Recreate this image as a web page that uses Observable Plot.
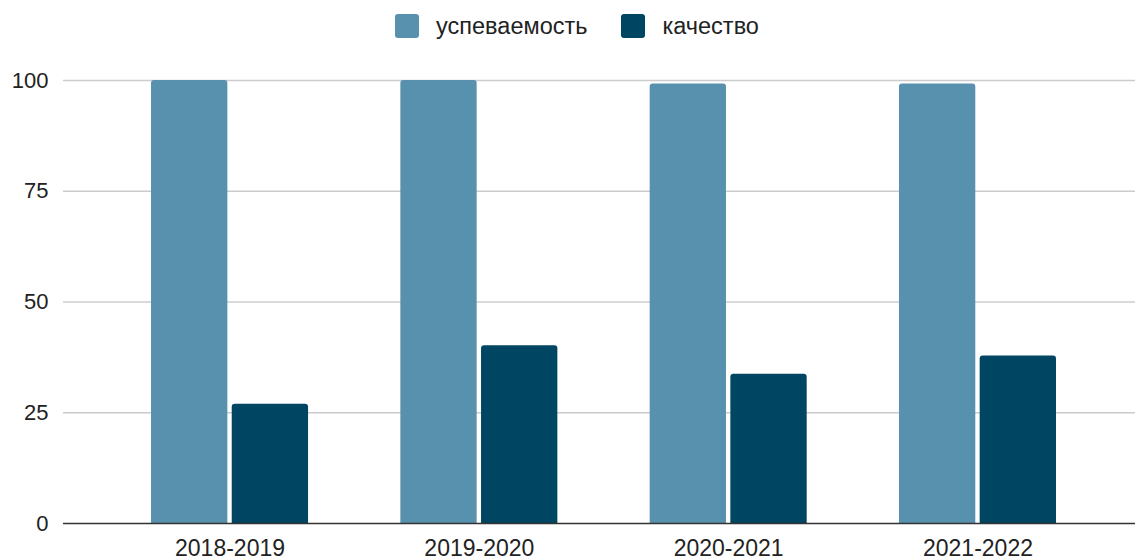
<!DOCTYPE html>
<html>
<head>
<meta charset="utf-8">
<script src="https://cdn.jsdelivr.net/npm/d3@7"></script>
<script src="https://cdn.jsdelivr.net/npm/@observablehq/plot@0.6"></script>
<style>
  html, body { margin: 0; padding: 0; background: #fff; }
  body { width: 1135px; height: 559px; overflow: hidden; font-family: "Liberation Sans", Arial, sans-serif; }
  #legend { height: 50px; display: flex; align-items: center; justify-content: center; padding-left: 19px; padding-top: 2px; box-sizing: border-box; font-size: 23.5px; color: #222; }
  .item { display: flex; align-items: center; margin: 0 17px; }
  .sw { width: 24px; height: 24px; border-radius: 3px; margin-right: 17px; }
</style>
</head>
<body>
<div id="legend"></div>
<div id="chart"></div>
<script>
const years = ["2018-2019", "2019-2020", "2020-2021", "2021-2022"];
const seriesNames = ["успеваемость", "качество"];
const uspevaemost = [100, 100, 99.2, 99.2];
const kachestvo = [26.9, 40.1, 33.7, 37.8];
const yTicks = [0, 25, 50, 75, 100];
const colors = ["#5891ad", "#004561"];

const rows1 = years.map((y, i) => ({year: y, value: uspevaemost[i]}));
const rows2 = years.map((y, i) => ({year: y, value: kachestvo[i]}));

const legend = document.getElementById("legend");
seriesNames.forEach((name, i) => {
  const it = document.createElement("div");
  it.className = "item";
  const sw = document.createElement("div");
  sw.className = "sw";
  sw.style.background = colors[i];
  const t = document.createElement("span");
  t.textContent = name;
  it.appendChild(sw); it.appendChild(t);
  legend.appendChild(it);
});

const barInset = 80.7;

const chart = Plot.plot({
  width: 1135,
  height: 509,
  marginLeft: 63,
  marginRight: 0,
  marginTop: 30,
  marginBottom: 36,
  style: {fontFamily: '"Liberation Sans", Arial, sans-serif', fontSize: "22px", color: "#222", background: "#fff", overflow: "visible"},
  x: {domain: years, paddingInner: 0.3702, paddingOuter: 0.335, align: 0.527, round: false, label: null, tickSize: 0, tickPadding: 17},
  y: {domain: [0, 100], ticks: yTicks, label: null, tickSize: 0, tickPadding: 15},
  marks: [
    Plot.ruleY(yTicks.filter(d => d > 0), {stroke: "#cccccc", strokeWidth: 1.3}),
    Plot.barY(rows1, {x: "year", y: "value", fill: colors[0], insetRight: barInset, ry1: 3}),
    Plot.barY(rows2, {x: "year", y: "value", fill: colors[1], insetLeft: barInset, ry1: 3}),
    Plot.ruleY([0], {stroke: "#333", strokeWidth: 1.3}),
    Plot.axisX({label: null, tickSize: 0, tickPadding: 16.5, fontSize: 23})
  ]
});
document.getElementById("chart").appendChild(chart);
</script>
</body>
</html>
